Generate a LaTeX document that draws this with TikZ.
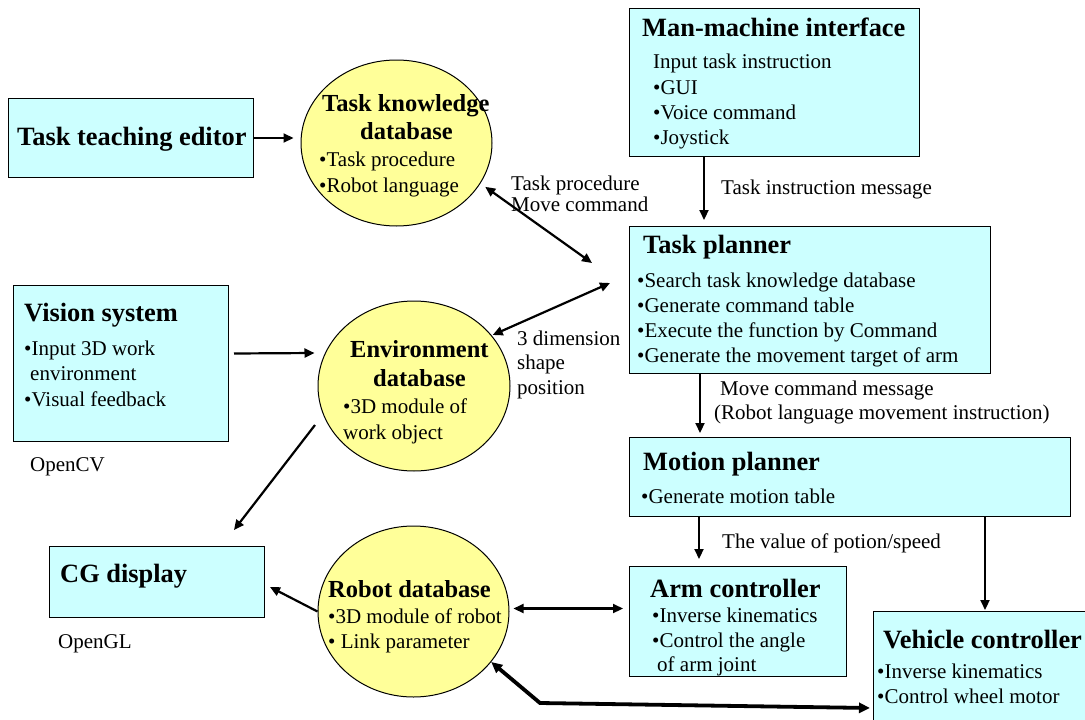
\documentclass[tikz,border=0pt]{standalone}
\usepackage{fontspec}
\setmainfont{Liberation Serif}
\usetikzlibrary{shapes.geometric,arrows.meta}
\definecolor{boxcyan}{HTML}{CCFFFF}
\definecolor{dbyellow}{HTML}{FFFF99}
\newcommand{\bodyfnt}{\fontsize{21pt}{25pt}\selectfont}
\newcommand{\boxttl}{\fontsize{26.4pt}{30pt}\selectfont\bfseries}
\newcommand{\dbttl}{\fontsize{24.5pt}{28pt}\selectfont\bfseries}
\tikzset{
  box/.style={draw=black, fill=boxcyan, line width=1pt, inner sep=0pt, anchor=north west},
  db/.style={ellipse, draw=black, fill=dbyellow, line width=1pt, inner sep=0pt},
  tt/.style={anchor=base west, inner sep=0pt, font=\bodyfnt},
  bt/.style={anchor=base west, inner sep=0pt, font=\boxttl},
  et/.style={anchor=base west, inner sep=0pt, font=\dbttl},
  arr/.style={line width=2.2pt, -{Triangle[length=10pt,width=9pt]}},
  darr/.style={line width=2.2pt, {Triangle[length=10pt,width=9pt]}-{Triangle[length=10pt,width=9pt]}},
  tdarr/.style={line width=3.8pt, line join=miter, {Triangle[length=11pt,width=10pt]}-{Triangle[length=11pt,width=10pt]}},
}
\begin{document}
\begin{tikzpicture}[x=1pt,y=-1pt]
\clip (0,0) rectangle (1085,720);
\fill[white] (0,0) rectangle (1085,720);

% boxes
\node[box, minimum width=245pt, minimum height=79pt] (tte) at (8,98) {};
\node[box, minimum width=290pt, minimum height=148pt] (mmi) at (629,8) {};
\node[box, minimum width=361pt, minimum height=147pt] (tp) at (629,226) {};
\node[box, minimum width=215pt, minimum height=156pt] (vis) at (13,285) {};
\node[box, minimum width=441pt, minimum height=79pt] (mot) at (629,437) {};
\node[box, minimum width=215pt, minimum height=71pt] (cg) at (49,546) {};
\node[box, minimum width=217pt, minimum height=110pt] (arm) at (629,566) {};
\node[box, minimum width=230pt, minimum height=130pt] (veh) at (873,611) {};

% databases
\node[db, minimum width=191pt, minimum height=166pt] (tkd) at (396.5,143) {};
\node[db, minimum width=192pt, minimum height=170pt] (env) at (414,386) {};
\node[db, minimum width=191pt, minimum height=171pt] (rdb) at (413.5,611.5) {};

% texts: task teaching editor
\node[bt] (tteT) at (17,145) {Task teaching editor};
% man-machine interface
\node[bt] (mmiT) at (642,36) {Man-machine interface};
\node[tt] (mmi1) at (653,68) {Input task instruction};
\node[tt] (mmi2) at (653,94) {•GUI};
\node[tt] (mmi3) at (653,119) {•Voice command};
\node[tt] (mmi4) at (653,144) {•Joystick};
\node[tt] (lbl1) at (721,194) {Task instruction message};
% task planner
\node[bt] (tpT) at (643,253) {Task planner};
\node[tt] (tp1) at (637,287) {•Search task knowledge database};
\node[tt] (tp2) at (637,312) {•Generate command table};
\node[tt] (tp3) at (637,337) {•Execute the function by Command};
\node[tt] (tp4) at (637,362) {•Generate the movement target of arm};
\node[tt] (lbl2a) at (720,395) {Move command message};
\node[tt] (lbl2b) at (714,419) {(Robot language movement instruction)};
% motion planner
\node[bt] (motT) at (643,470) {Motion planner};
\node[tt] (mot1) at (641,503) {•Generate motion table};
\node[tt] (lbl3) at (722,548) {The value of potion/speed};
% arm controller
\node[bt] (armT) at (650,597) {Arm controller};
\node[tt] (arm1) at (652,622) {•Inverse kinematics};
\node[tt] (arm2) at (652,647) {•Control the angle};
\node[tt] (arm3) at (657,671) {of arm joint};
% vehicle controller
\node[bt] (vehT) at (883,648) {Vehicle controller};
\node[tt] (veh1) at (877,678) {•Inverse kinematics};
\node[tt] (veh2) at (877,703) {•Control wheel motor};
% vision
\node[bt] (visT) at (24,321) {Vision system};
\node[tt] (vis1) at (24,355) {•Input 3D work};
\node[tt] (vis2) at (30,380) {environment};
\node[tt] (vis3) at (24,406) {•Visual feedback};
\node[tt] (ocv) at (30,471) {OpenCV};
% CG
\node[bt] (cgT) at (60,582) {CG display};
\node[tt] (ogl) at (58,648) {OpenGL};
% task knowledge db
\node[et] (tkdT1) at (322,111) {Task knowledge};
\node[et] (tkdT2) at (360,139) {database};
\node[tt] (tkd1) at (319,166) {•Task procedure};
\node[tt] (tkd2) at (319,192) {•Robot language};
\node[tt] (lbl4a) at (511,190) {Task procedure};
\node[tt] (lbl4b) at (511,211) {Move command};
% environment db
\node[et] (envT1) at (350,357) {Environment};
\node[et] (envT2) at (373,386) {database};
\node[tt] (env1) at (343,413) {•3D module of};
\node[tt] (env2) at (343,439) {work object};
\node[tt] (lbl5a) at (517,345) {3 dimension};
\node[tt] (lbl5b) at (517,369) {shape};
\node[tt] (lbl5c) at (517,394) {position};
% robot db
\node[et] (rdbT) at (328,597) {Robot database};
\node[tt] (rdb1) at (328,623) {•3D module of robot};
\node[tt] (rdb2) at (328,648) {• Link parameter};

% connectors
\draw[arr] (tte.east) -- ([xshift=-7pt]tte.east -| tkd.west);
\draw[arr] ([xshift=75pt]mmi.south west) -- ([xshift=75pt,yshift=6pt]tp.north west);
\draw[darr] ([shift={(5pt,-3pt)}]tkd.-26) -- ([shift={(-37pt,-37pt)}]tp.north west);
\draw[darr] ([shift={(3pt,-2pt)}]env.35) -- ([shift={(-19pt,-57pt)}]tp.north west);
\draw[arr] ([xshift=71pt]tp.south west) -- ([xshift=71pt,yshift=4pt]mot.north west);
\draw[arr] ([shift={(5pt,10pt)}]vis.east) -- ([shift={(-3pt,33pt)}]env.west);
\draw[arr] ([shift={(-99pt,-39pt)}]env.center) -- ([shift={(-31pt,16pt)}]cg.north east);
\draw[arr] (rdb.west) -- ([shift={(5pt,-5pt)}]cg.east);
\draw[darr] ([shift={(4pt,3pt)}]rdb.east) -- ([shift={(-6pt,13pt)}]arm.west);
\draw[arr] ([xshift=70pt]mot.south west) -- ([xshift=70pt,yshift=7pt]arm.north west);
\draw[arr] ([xshift=356pt]mot.south west) -- ([xshift=112pt,yshift=1pt]veh.north west);
\draw[tdarr] ([shift={(-3pt,-31.5pt)}]veh.west) -- ([shift={(126.5pt,-91.5pt)}]rdb.center) -- (rdb.-33);
\end{tikzpicture}
\end{document}
